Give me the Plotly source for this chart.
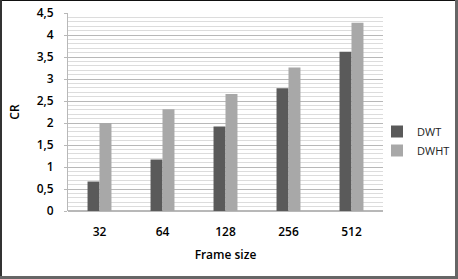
import plotly.graph_objects as go

categories = ["32", "64", "128", "256", "512"]
dwt = [0.67, 1.17, 1.92, 2.79, 3.62]
dwht = [2.0, 2.31, 2.66, 3.26, 4.28]
y_ticks = [0, 0.5, 1, 1.5, 2, 2.5, 3, 3.5, 4, 4.5]
y_labels = ["0", "0,5", "1", "1,5", "2", "2,5", "3", "3,5", "4", "4,5"]

W, H = 458, 279
L, R, T, B = 68, 75, 13, 68
pw, ph = W - L - R, H - T - B

def px(x):
    return (x - L) / pw

def py(y):
    return (H - B - y) / ph

fig = go.Figure()
fig.add_trace(go.Bar(name="DWT", x=categories, y=dwt, marker_color="#5a5a5a",
                     marker_line_width=0))
fig.add_trace(go.Bar(name="DWHT", x=categories, y=dwht, marker_color="#a8a8a8",
                     marker_line_width=0))

font = "Open Sans, Lato, Liberation Sans, sans-serif"
bold = "Open Sans Semibold, Open Sans, sans-serif"

fig.update_layout(
    width=W, height=H,
    margin=dict(l=L, r=R, t=T, b=B, autoexpand=False),
    paper_bgcolor="white", plot_bgcolor="white",
    barmode="group", bargap=0.62, bargroupgap=0,
    font=dict(family=font, size=11, color="black"),
    showlegend=True,
    legend=dict(x=px(377), y=py(117), xanchor="left", yanchor="top",
                font=dict(size=11, color="#222"), itemwidth=30,
                tracegroupgap=4, bgcolor="rgba(0,0,0,0)"),
    xaxis=dict(
        showgrid=False, showline=False, ticks="outside", ticklen=10,
        tickcolor="rgba(0,0,0,0)",
        tickfont=dict(size=12, color="black", family=bold, weight="bold"),
        title=dict(text="Frame size", standoff=11,
                   font=dict(size=12, color="black", family=bold)),
    ),
    yaxis=dict(
        range=[0, 4.5], tickvals=y_ticks, ticktext=y_labels,
        showgrid=True, gridcolor="#b8b8b8", gridwidth=1,
        minor=dict(dtick=0.1, showgrid=True, gridcolor="#dcdcdc", gridwidth=1),
        showline=True, linecolor="#b8b8b8", linewidth=1,
        ticks="outside", ticklen=3, tickcolor="#b8b8b8",
        ticklabelstandoff=8,
        zeroline=True, zerolinecolor="#b8b8b8",
        tickfont=dict(size=12, color="black", family=bold, weight="bold"),
        title=dict(text="CR", standoff=14, font=dict(size=12, color="black", family=bold)),
    ),
)

# outer frame of the image
fig.add_shape(type="line", xref="paper", yref="paper",
              x0=px(0), x1=px(W), y0=py(0.5), y1=py(0.5),
              line=dict(color="#111", width=1))
fig.add_shape(type="line", xref="paper", yref="paper",
              x0=px(1), x1=px(1), y0=py(0), y1=py(H),
              line=dict(color="#333", width=2))
fig.add_shape(type="line", xref="paper", yref="paper",
              x0=px(W - 1.5), x1=px(W - 1.5), y0=py(0), y1=py(H),
              line=dict(color="#666", width=3))
fig.add_shape(type="line", xref="paper", yref="paper",
              x0=px(0), x1=px(W), y0=py(H - 1.5), y1=py(H - 1.5),
              line=dict(color="#666", width=3))

fig.write_html("out.html", config={"displayModeBar": False},
               post_script="document.body.style.margin='0';document.body.style.overflow='hidden';")
